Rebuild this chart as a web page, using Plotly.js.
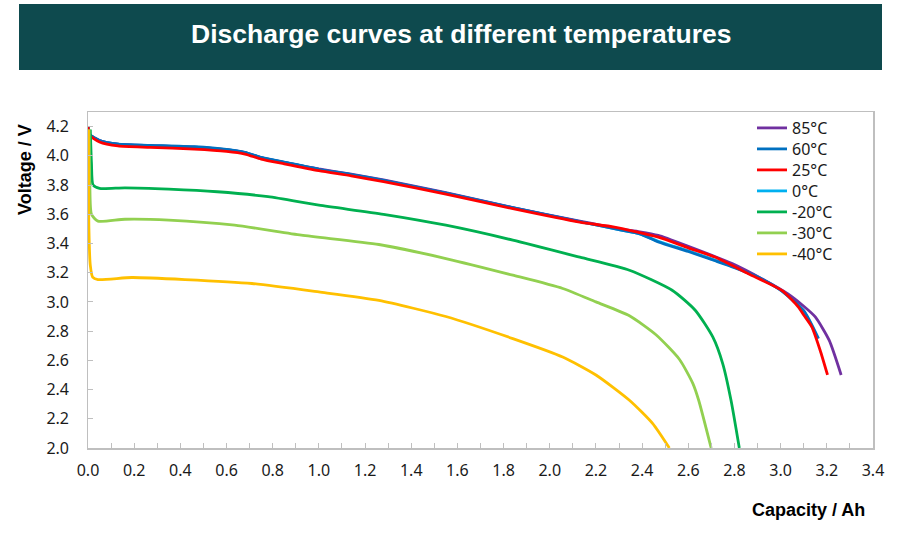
<!DOCTYPE html>
<html>
<head>
<meta charset="utf-8">
<script src="https://cdn.plot.ly/plotly-3.0.1.min.js"></script>
<style>
html,body{margin:0;padding:0;background:#fff;}
#chart{width:897px;height:537px;}
</style>
</head>
<body>
<div id="chart"></div>
<script>
// ---- Data ----
const seriesNames = ["85°C", "60°C", "25°C", "0°C", "-20°C", "-30°C", "-40°C"];
const seriesColors = ["#7030a0", "#0070c0", "#ff0000", "#00b0f0", "#00b050", "#92d050", "#ffc000"];

const cap85 = [0, 0.007, 0.05, 0.13, 0.27, 0.46, 0.6, 0.68, 0.75, 0.85, 1.0, 1.14, 1.28, 1.55, 1.84, 2.13, 2.3, 2.39, 2.47, 2.6, 2.79, 2.93, 3.03, 3.1, 3.15, 3.21, 3.262];
const v85   = [4.2, 4.145, 4.105, 4.08, 4.07, 4.06, 4.042, 4.022, 3.988, 3.955, 3.91, 3.875, 3.835, 3.748, 3.646, 3.553, 3.5, 3.48, 3.455, 3.38, 3.262, 3.148, 3.056, 2.97, 2.897, 2.738, 2.5];

const cap60 = [0, 0.007, 0.05, 0.13, 0.27, 0.46, 0.6, 0.68, 0.75, 0.85, 1.0, 1.14, 1.28, 1.55, 1.84, 2.13, 2.3, 2.39, 2.47, 2.6, 2.7, 2.8, 2.9, 3.0, 3.1, 3.164];
const v60   = [4.2, 4.145, 4.105, 4.08, 4.072, 4.062, 4.044, 4.024, 3.99, 3.957, 3.908, 3.872, 3.832, 3.745, 3.645, 3.55, 3.494, 3.466, 3.41, 3.345, 3.29, 3.235, 3.17, 3.08, 2.94, 2.749];

const cap25 = [0, 0.007, 0.05, 0.13, 0.27, 0.46, 0.6, 0.68, 0.75, 0.85, 1.0, 1.14, 1.28, 1.55, 1.84, 2.13, 2.28, 2.47, 2.6, 2.715, 2.86, 3.005, 3.077, 3.1, 3.135, 3.171, 3.203];
const v25   = [4.2, 4.14, 4.095, 4.068, 4.058, 4.046, 4.03, 4.012, 3.978, 3.945, 3.898, 3.863, 3.823, 3.738, 3.638, 3.546, 3.512, 3.443, 3.37, 3.307, 3.193, 3.079, 2.965, 2.91, 2.829, 2.669, 2.5];

const cap0  = [0, 0.007, 0.05, 0.13, 0.27, 0.46, 0.6, 0.68, 0.75, 0.85, 1.0, 1.14, 1.28, 1.55, 1.84, 2.13, 2.3, 2.39, 2.47, 2.6, 2.7, 2.8, 2.9, 3.0, 3.1, 3.16];
const v0    = [4.2, 4.145, 4.105, 4.08, 4.07, 4.06, 4.042, 4.022, 3.988, 3.955, 3.906, 3.87, 3.83, 3.744, 3.644, 3.55, 3.494, 3.466, 3.415, 3.35, 3.295, 3.238, 3.172, 3.08, 2.935, 2.75];

const capM20 = [0.01, 0.015, 0.022, 0.05, 0.16, 0.35, 0.56, 0.78, 1.0, 1.28, 1.55, 1.84, 2.13, 2.345, 2.53, 2.63, 2.706, 2.749, 2.785, 2.821];
const vM20   = [4.18, 3.95, 3.80, 3.777, 3.781, 3.772, 3.754, 3.72, 3.662, 3.60, 3.525, 3.423, 3.306, 3.217, 3.08, 2.943, 2.76, 2.578, 2.327, 2.0];

const capM30 = [0.005, 0.008, 0.015, 0.043, 0.16, 0.35, 0.635, 0.924, 1.26, 1.55, 1.84, 2.056, 2.2, 2.345, 2.46, 2.562, 2.62, 2.645, 2.699];
const vM30   = [4.18, 3.80, 3.60, 3.553, 3.566, 3.56, 3.525, 3.457, 3.393, 3.297, 3.183, 3.092, 3.0, 2.905, 2.775, 2.606, 2.441, 2.327, 2.0];

const capM40 = [0.002, 0.004, 0.01, 0.02, 0.043, 0.19, 0.42, 0.71, 1.0, 1.26, 1.55, 1.84, 2.056, 2.2, 2.345, 2.446, 2.518];
const vM40   = [4.18, 3.5, 3.25, 3.17, 3.153, 3.167, 3.153, 3.126, 3.068, 3.01, 2.9, 2.749, 2.623, 2.5, 2.327, 2.167, 2.0];

const xTickVals = [0, 0.2, 0.4, 0.6, 0.8, 1.0, 1.2, 1.4, 1.6, 1.8, 2.0, 2.2, 2.4, 2.6, 2.8, 3.0, 3.2, 3.4];
const yTickVals = [2.0, 2.2, 2.4, 2.6, 2.8, 3.0, 3.2, 3.4, 3.6, 3.8, 4.0, 4.2];

const titleText = "Discharge curves at different temperatures";
const xTitle = "Capacity / Ah";
const yTitle = "Voltage / V";

// ---- Layout geometry (pixels of the 897x537 page) ----
const marginL = 40, marginR = 24, marginT = 112, marginB = 89;
const areaW = 897 - marginL - marginR, areaH = 537 - marginT - marginB;
const frameLeft = 88;
const px2x = px => (px - marginL) / areaW;
const px2y = py => 1 - (py - marginT) / areaH;

// ---- Traces (draw order chosen so red sits on top; each entry has its own legend box) ----
const legendKey = i => (i === 0 ? "legend" : "legend" + (i + 1));
const data = [
  [cap0, v0, 3], [cap85, v85, 0], [cap60, v60, 1], [cap25, v25, 2],
  [capM20, vM20, 4], [capM30, vM30, 5], [capM40, vM40, 6]
].map(([x, y, i]) => ({
  type: "scatter", mode: "lines", x: x, y: y,
  name: seriesNames[i], legend: legendKey(i),
  line: {color: seriesColors[i], width: 2.8, shape: "spline", smoothing: 0.6}
}));
// helper trace on the overlay axis so its frame and tick marks are drawn
data.push({type: "scatter", mode: "lines", x: [0], y: [2.0], yaxis: "y2",
           showlegend: false, hoverinfo: "skip", line: {width: 0}});

const tickFont = {family: "Noto Sans, Open Sans, sans-serif", size: 16, color: "#1a1a1a"};
const legendFont = {family: "Noto Sans, Open Sans, sans-serif", size: 16, color: "#1a1a1a"};

const layout = {
  width: 897, height: 537,
  margin: {l: marginL, r: marginR, t: marginT, b: marginB},
  paper_bgcolor: "#ffffff", plot_bgcolor: "#ffffff",
  showlegend: true,
  xaxis: {domain: [px2x(frameLeft), 1], range: [0, 3.4], tickvals: xTickVals, tickformat: ".1f",
          anchor: "y2",
          ticks: "inside", ticklen: 5, tickcolor: "#bfbfbf", tickwidth: 1,
          minor: {dtick: 0.1, ticks: "inside", ticklen: 5, tickcolor: "#bfbfbf", tickwidth: 1},
          showline: true, linecolor: "#bfbfbf", linewidth: 1.5, mirror: true,
          showgrid: false, zeroline: false, tickfont: tickFont, ticklabelstandoff: 7},
  // labelled voltage axis, placed freely just left of the frame
  yaxis: {range: [2.0, 4.3], tickvals: yTickVals, tickformat: ".1f",
          anchor: "free", position: px2x(69), side: "left",
          ticks: "", showline: false, showgrid: false, zeroline: false, tickfont: tickFont},
  // frame axis: line and short inside tick marks
  yaxis2: {range: [2.0, 4.3], tickvals: yTickVals, overlaying: "y", side: "left", anchor: "x",
           ticks: "inside", ticklen: 5, tickcolor: "#bfbfbf", tickwidth: 1,
           showline: true, linecolor: "#bfbfbf", linewidth: 1.5, mirror: true,
           showticklabels: false, showgrid: false, zeroline: false},
  shapes: [{type: "rect", xref: "paper", yref: "paper",
            x0: px2x(19), x1: px2x(882), y0: px2y(70), y1: px2y(4),
            fillcolor: "#0e4a4e", line: {width: 0}, layer: "below"}],
  annotations: [
    {text: "<b>" + titleText + "</b>", xref: "paper", yref: "paper",
     x: px2x(461), y: px2y(34), xanchor: "center", yanchor: "middle", showarrow: false,
     font: {family: "Liberation Sans, Arial, sans-serif", size: 26.5, color: "#ffffff"}},
    {text: "<b>" + yTitle + "</b>", xref: "paper", yref: "paper",
     x: px2x(25), y: px2y(170), xanchor: "center", yanchor: "middle", showarrow: false, textangle: -90,
     font: {family: "Liberation Sans, Arial, sans-serif", size: 18, color: "#000000"}},
    {text: "<b>" + xTitle + "</b>", xref: "paper", yref: "paper",
     x: px2x(808), y: px2y(510), xanchor: "center", yanchor: "middle", showarrow: false,
     font: {family: "Liberation Sans, Arial, sans-serif", size: 18, color: "#000000"}}
  ]
};

seriesNames.forEach((n, i) => {
  layout[legendKey(i)] = {
    x: px2x(752), y: px2y(128 + 21 * i),
    xanchor: "left", yanchor: "middle",
    font: legendFont, bgcolor: "rgba(0,0,0,0)", borderwidth: 0, itemwidth: 30
  };
});

Plotly.newPlot("chart", data, layout, {displayModeBar: false, staticPlot: true});
</script>
</body>
</html>
